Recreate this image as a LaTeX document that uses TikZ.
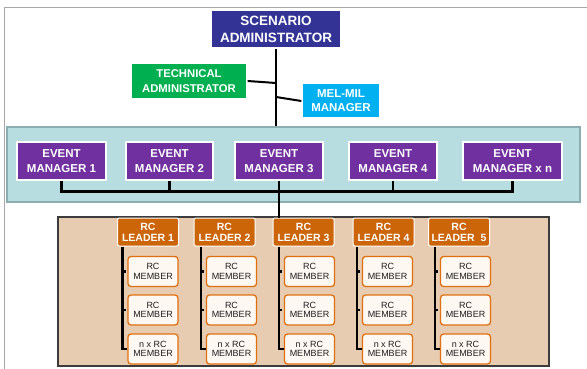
\documentclass[tikz,border=0pt]{standalone}
\usepackage{fontspec}
\setmainfont{Liberation Sans}
\usetikzlibrary{shadows}

\definecolor{framegray}{HTML}{A8A8A8}
\definecolor{scenblue}{HTML}{333395}
\definecolor{techgreen}{HTML}{00B050}
\definecolor{melblue}{HTML}{00B0F0}
\definecolor{tealfill}{HTML}{B8DDE0}
\definecolor{tealedge}{HTML}{8CAEB1}
\definecolor{emviolet}{HTML}{7030A0}
\definecolor{tanfill}{HTML}{E7CCB2}
\definecolor{tanedge}{HTML}{3C3C3C}
\definecolor{leaderbrown}{HTML}{CC6408}
\definecolor{memberfill}{HTML}{FEF8F2}
\definecolor{memberedge}{HTML}{E0700F}

\tikzset{
  frameline/.style={draw=framegray, line width=1.5pt},
  softshadow/.style={drop shadow={opacity=0.28, shadow xshift=0.9pt, shadow yshift=-0.9pt}},
  whitebox/.style={draw=white, line width=1.3pt, text=white, align=center,
    inner sep=0pt, softshadow},
  scenbox/.style={whitebox, fill=scenblue, minimum width=130pt, minimum height=38pt,
    font=\bfseries\fontsize{13.5}{17}\selectfont},
  techbox/.style={whitebox, fill=techgreen, minimum width=116pt, minimum height=36pt,
    font=\bfseries\fontsize{11.3}{14.5}\selectfont},
  melbox/.style={whitebox, fill=melblue, minimum width=78pt, minimum height=35pt,
    font=\bfseries\fontsize{11.5}{14.5}\selectfont},
  embox/.style={whitebox, fill=emviolet, minimum height=38pt,
    font=\bfseries\fontsize{11.5}{14.5}\selectfont},
  tealpanel/.style={draw=tealedge, fill=tealfill, line width=1.3pt, inner sep=0pt,
    minimum width=573pt, minimum height=75pt},
  tanpanel/.style={draw=tanedge, fill=tanfill, line width=1.3pt, inner sep=0pt,
    minimum width=491pt, minimum height=149pt},
  leaderbox/.style={draw=white, line width=1pt, fill=leaderbrown, rounded corners=2pt,
    text=white, align=center, inner sep=0pt, minimum width=61pt, minimum height=28pt,
    font=\bfseries\fontsize{10.5}{11.2}\selectfont},
  memberbox/.style={draw=memberedge, line width=1.3pt, fill=memberfill, rounded corners=3pt,
    text=black!88, align=center, inner sep=0pt, minimum width=50pt, minimum height=30pt,
    font=\fontsize{9}{9.6}\selectfont},
  conn/.style={draw=black, line width=2pt},
  bus/.style={draw=black, line width=2.6pt},
}

\begin{document}
\begin{tikzpicture}[x=1pt, y=-1pt]
\useasboundingbox (0,0) rectangle (587,369);

% page frame
\draw[frameline] (4.5,369) -- (4.5,7.5) -- (587,7.5);

% background panels
\node[tealpanel] (teal) at (293.5,164.5) {};
\node[tanpanel] (tan) at (303.5,291.5) {};

% top management
\node[scenbox] (scen) at (276,29) {SCENARIO\\ADMINISTRATOR};
\node[techbox] (tech) at (189,81) {TECHNICAL\\ADMINISTRATOR};
\node[melbox] (mel) at (341,100.5) {MEL-MIL\\MANAGER};

% event managers
\node[embox, minimum width=89pt] (em1) at (61.5,161) {EVENT\\MANAGER 1};
\node[embox, minimum width=87pt] (em2) at (169.5,161) {EVENT\\MANAGER 2};
\node[embox, minimum width=88pt] (em3) at (279,161) {EVENT\\MANAGER 3};
\node[embox, minimum width=88pt] (em4) at (393,161) {EVENT\\MANAGER 4};
\node[embox, minimum width=99pt] (em5) at (512.5,161) {EVENT\\MANAGER x n};

% response cell leaders
\node[leaderbox] (l1) at (148,232) {RC\\LEADER 1};
\node[leaderbox] (l2) at (224.5,232) {RC\\LEADER 2};
\node[leaderbox] (l3) at (303.5,232) {RC\\LEADER 3};
\node[leaderbox] (l4) at (383.5,232) {RC\\LEADER 4};
\node[leaderbox] (l5) at (459,232) {RC\\LEADER\hspace{3pt} 5};

% response cell members, three per leader
\foreach \i/\x in {1/153, 2/231.5, 3/309.5, 4/387.5, 5/465.5} {
  \node[memberbox] (m\i a) at (\x,271.5) {RC\\MEMBER};
  \node[memberbox] (m\i b) at (\x,310) {RC\\MEMBER};
  \node[memberbox] (m\i c) at (\x,349) {n x RC\\MEMBER};
}

% links at the top
\draw[conn] (scen.south) -- (scen.south |- teal.north);
\coordinate (jtech) at (276,83);
\coordinate (jmel) at (276,97);
\draw[conn] (tech.east) -- (jtech);
\draw[conn] (jmel) -- ([yshift=-0.5pt]mel.west);

% event manager bus
\coordinate (busline) at (0,191.5);
\draw[bus] (em1.south) -- (em1.south |- busline) -- (em5.south |- busline) -- (em5.south);
\foreach \i in {2,3,4} {
  \draw[bus] (em\i.south) -- (em\i.south |- busline);
}
\draw[bus] (em3.south |- busline) -- (em3.south |- l3.north);

% leader-to-member brackets
\foreach \i in {1,...,5} {
  \coordinate (k\i) at ([xshift=-5pt]m\i c.west);
  \coordinate (ka\i) at ([xshift=-5pt]m\i a.west);
  \coordinate (kb\i) at ([xshift=-5pt]m\i b.west);
  \draw[bus] (k\i |- l\i.south) -- (k\i) -- (m\i c.west);
  \draw[bus] (ka\i) -- ([xshift=-1.5pt]m\i a.west);
  \draw[bus] (kb\i) -- ([xshift=-1.5pt]m\i b.west);
}
\end{tikzpicture}
\end{document}
